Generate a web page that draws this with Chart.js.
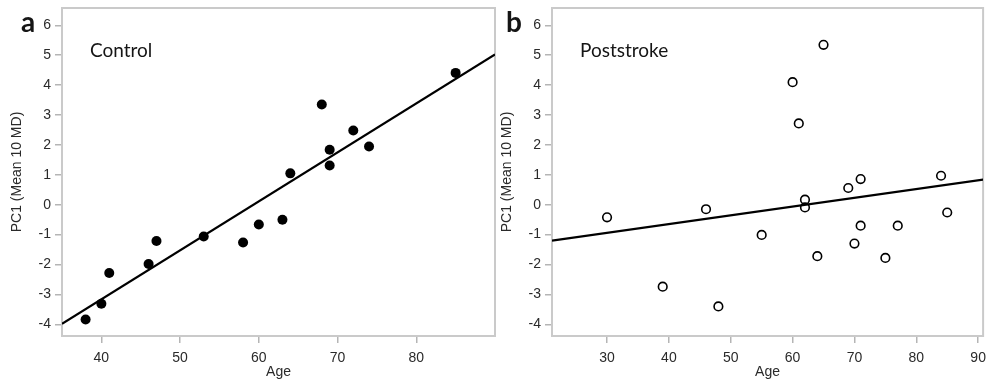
<!DOCTYPE html>
<html><head><meta charset="utf-8">
<script src="https://cdn.jsdelivr.net/npm/chart.js@4/dist/chart.umd.min.js"></script>
<style>
html,body{margin:0;padding:0;background:#fff;width:989px;height:384px;overflow:hidden;}
.wrap{position:absolute;top:0;height:384px;}
#wa{left:0;width:500px;}
#wb{left:490px;width:499px;}
</style></head><body>
<div class="wrap" id="wa"><canvas id="ca"></canvas></div>
<div class="wrap" id="wb"><canvas id="cb"></canvas></div>
<script>
// ---- data ----
const controlAge = [38, 40, 41, 46, 47, 53, 58, 60, 63, 64, 68, 69, 69, 72, 74, 85];
const controlPC1 = [-3.84, -3.31, -2.28, -1.98, -1.21, -1.06, -1.26, -0.66, -0.50, 1.05, 3.35, 1.84, 1.31, 2.48, 1.95, 4.41];
const controlFitAge = [35, 90];
const controlFitPC1 = [-3.98, 5.03];

const strokeAge = [30, 39, 46, 48, 55, 60, 61, 62, 62, 64, 65, 69, 70, 71, 71, 75, 77, 84, 85];
const strokePC1 = [-0.42, -2.74, -0.15, -3.40, -1.01, 4.10, 2.72, 0.17, -0.09, -1.72, 5.35, 0.56, -1.30, 0.86, -0.70, -1.78, -0.70, 0.97, -0.26];
const strokeFitAge = [21.1, 90.8];
const strokeFitPC1 = [-1.20, 0.84];

const controlAgeTicks = [40, 50, 60, 70, 80];
const strokeAgeTicks = [30, 40, 50, 60, 70, 80, 90];
const pc1Ticks = [-4, -3, -2, -1, 0, 1, 2, 3, 4, 5, 6];

const xTitle = 'Age';
const yTitle = 'PC1 (Mean 10 MD)';

// ---- helpers ----
const pts = (xs, ys) => xs.map((x, i) => ({x, y: ys[i]}));
const tickFont = {family: '"Liberation Sans", Arial, Helvetica, sans-serif', size: 14};

const deco = {
  id: 'deco',
  beforeDatasetsDraw(chart, args, o) {
    const {ctx, chartArea: a} = chart;
    ctx.save();
    ctx.strokeStyle = '#cacaca';
    ctx.lineWidth = 2;
    ctx.strokeRect(a.left, a.top, a.right - a.left, a.bottom - a.top);
    ctx.restore();
  },
  afterDraw(chart, args, o) {
    const {ctx} = chart;
    ctx.save();
    ctx.fillStyle = '#151515';
    ctx.textBaseline = 'alphabetic';
    ctx.textAlign = 'left';
    ctx.font = '19px Lato, "Open Sans", sans-serif';
    ctx.fillText(o.label, o.lx, 57);
    ctx.font = 'bold 28px Lato, "Open Sans", sans-serif';
    ctx.fillText(o.letter, o.px, 32);
    ctx.restore();
  }
};

function noPad(s) { s.paddingLeft = 0; s.paddingRight = 0; s.paddingTop = 0; s.paddingBottom = 0; }

function makeChart(id, opt) {
  return new Chart(document.getElementById(id), {
    type: 'scatter',
    data: {
      datasets: [
        {
          data: pts(opt.xs, opt.ys),
          pointRadius: opt.filled ? 5 : 4.3,
          pointBackgroundColor: opt.filled ? '#000' : 'rgba(0,0,0,0)',
          pointBorderColor: '#000',
          pointBorderWidth: opt.filled ? 0 : 1.6,
          order: 2
        },
        {
          type: 'line',
          data: pts(opt.fx, opt.fy),
          borderColor: '#000',
          borderWidth: 2.2,
          pointRadius: 0,
          fill: false,
          tension: 0,
          order: 1
        }
      ]
    },
    plugins: [deco],
    options: {
      responsive: true,
      maintainAspectRatio: false,
      animation: false,
      devicePixelRatio: 1,
      layout: {padding: {left: 0, right: opt.padR, top: 8, bottom: 0}},
      plugins: {
        legend: {display: false},
        tooltip: {enabled: false},
        deco: {label: opt.label, lx: 90, letter: opt.letter, px: opt.px}
      },
      scales: {
        x: {
          type: 'linear',
          min: opt.xmin, max: opt.xmax,
          afterBuildTicks: s => { s.ticks = opt.xticks.map(v => ({value: v})); },
          afterFit: s => { s.height = 48; noPad(s); },
          grid: {drawOnChartArea: false, drawTicks: true, tickLength: 7, color: '#b5b5b5', lineWidth: 1.5},
          border: {display: false},
          ticks: {font: tickFont, color: '#2a2a2a', padding: 7, maxRotation: 0},
          title: {display: true, text: xTitle, font: tickFont, color: '#2a2a2a', padding: {top: 0, bottom: 3}}
        },
        y: {
          type: 'linear',
          min: -4.39, max: 6.58,
          afterBuildTicks: s => { s.ticks = pc1Ticks.map(v => ({value: v})); },
          afterFit: s => { s.width = 62; noPad(s); },
          grid: {drawOnChartArea: false, drawTicks: true, tickLength: 7, color: '#b5b5b5', lineWidth: 1.5},
          border: {display: false},
          ticks: {font: tickFont, color: '#2a2a2a', padding: 4},
          title: {display: true, text: yTitle, font: tickFont, color: '#2a2a2a', padding: {top: 9, bottom: 0}}
        }
      }
    }
  });
}

makeChart('ca', {
  xs: controlAge, ys: controlPC1, fx: controlFitAge, fy: controlFitPC1,
  filled: true, xmin: 35, xmax: 90, xticks: controlAgeTicks,
  label: 'Control', letter: 'a', px: 21, padR: 2
});
makeChart('cb', {
  xs: strokeAge, ys: strokePC1, fx: strokeFitAge, fy: strokeFitPC1,
  filled: false, xmin: 21.1, xmax: 90.8, xticks: strokeAgeTicks,
  label: 'Poststroke', letter: 'b', px: 16, padR: 1
});
</script>
</body></html>
